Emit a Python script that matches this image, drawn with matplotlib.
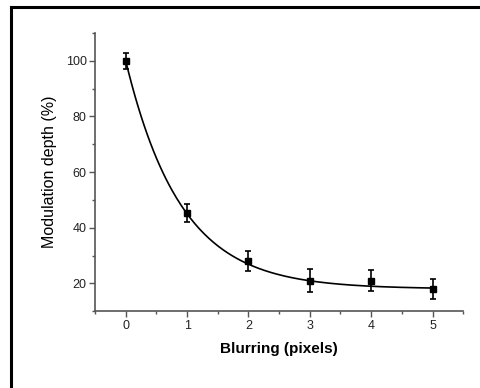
"""
Modulation depth vs blurring, with exponential decay fit
"""
import numpy as np
import matplotlib
matplotlib.use('Agg')
import matplotlib.pyplot as plt
from matplotlib.lines import Line2D

# measured points
blur_px = [0, 1, 2, 3, 4, 5]
depth = [100, 45.3, 28, 21, 21, 18]
depth_err = [2.8, 3.1, 3.6, 4.0, 3.8, 3.5]

# exponential decay fit: y = y0 + A * exp(-x / t1)
fit_y0 = 18.0
fit_A = 82.0
fit_t1 = 0.9

plt.rcParams['font.family'] = ['Liberation Sans', 'DejaVu Sans']

fig = plt.figure(figsize=(4.8, 3.88), dpi=100)
ax = fig.add_axes([0.198, 0.198, 0.767, 0.717])

axis_col = '#555555'

# fitted curve
xf = np.linspace(blur_px[0], blur_px[-1], 200)
ax.plot(xf, fit_y0 + fit_A * np.exp(-xf / fit_t1), color='black', lw=1.2, zorder=2)

# data with error bars
ax.errorbar(blur_px, depth, yerr=depth_err, fmt='s', color='black', ms=5,
            ecolor='black', elinewidth=1.2, capsize=2.5, capthick=1.2, zorder=3)

ax.set_xlim(-0.5, 5.5)
ax.set_ylim(10, 110)
ax.set_xticks([0, 1, 2, 3, 4, 5])
ax.set_xticks(np.arange(-0.5, 5.6, 0.5), minor=True)
ax.set_yticks([20, 40, 60, 80, 100])
ax.set_yticks(np.arange(10, 111, 10), minor=True)

for side in ('top', 'right'):
    ax.spines[side].set_visible(False)
for side in ('left', 'bottom'):
    ax.spines[side].set_color(axis_col)
    ax.spines[side].set_linewidth(1.2)

ax.tick_params(which='major', direction='out', length=4, width=1.0, color=axis_col,
               labelsize=9, labelcolor='#222222', pad=2)
ax.tick_params(which='minor', direction='out', length=2.5, width=1.0, color=axis_col)

ax.set_xlabel('Blurring (pixels)', fontsize=11, fontweight='bold', labelpad=7.5)
ax.set_ylabel('Modulation depth (%)', fontsize=11.5, labelpad=6)

# page frame (left and top edges only)
fig.add_artist(Line2D([11 / 480, 11 / 480], [0, 1 - 7 / 388], color='black', lw=2.2,
                      transform=fig.transFigure))
fig.add_artist(Line2D([11 / 480, 1], [1 - 7 / 388, 1 - 7 / 388], color='black', lw=2.2,
                      transform=fig.transFigure))

fig.savefig('out.png', dpi=100)
